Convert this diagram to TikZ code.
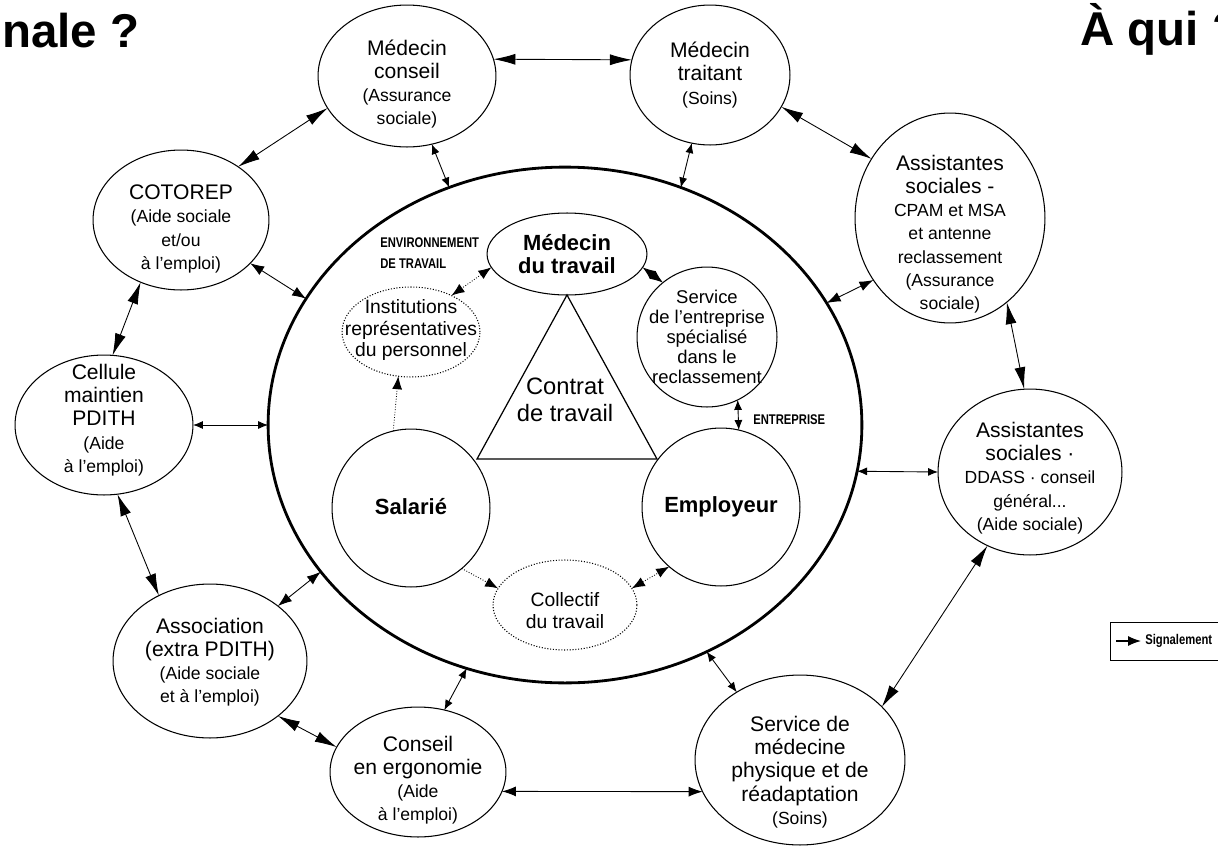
\documentclass[tikz,border=0pt]{standalone}
\usepackage{fontspec}
\setmainfont{Liberation Sans}
\newfontfamily\condfont{Liberation Sans}[FakeStretch=0.8]
\usetikzlibrary{shapes.geometric,arrows.meta}
\newcommand\bigf{\fontsize{12}{13.2}\selectfont}
\newcommand\smf{\fontsize{10}{11.3}\selectfont}
\newcommand\smt{\fontsize{10}{10.6}\selectfont}
\tikzset{
  ell/.style 2 args={ellipse, minimum width=#1*0.04cm, minimum height=#2*0.04cm, inner sep=0pt, outer sep=0pt},
  onode/.style={draw, line width=0.6pt},
  dnode/.style={draw, line width=0.6pt, densely dotted},
  txt/.style={align=center, inner sep=0pt, font=\bigf},
  itxt/.style={align=center, inner sep=0pt},
  bigarr/.style={line width=0.5pt, {Latex[length=4.4mm,width=2.2mm]}-{Latex[length=4.4mm,width=2.2mm]}},
  medarr/.style={line width=0.5pt, {Latex[length=2.8mm,width=2mm]}-{Latex[length=2.8mm,width=2mm]}},
  smarr/.style={line width=0.5pt, {Latex[length=2mm,width=1.6mm]}-{Latex[length=2mm,width=1.6mm]}},
  dotarr/.style={line width=0.5pt, densely dotted, {Latex[length=2.6mm,width=2mm]}-{Latex[length=2.6mm,width=2mm]}},
  dotone/.style={line width=0.5pt, densely dotted, -{Latex[length=2.6mm,width=2mm]}},
  capsf/.style={inner sep=0pt, anchor=west, font=\condfont\bfseries\fontsize{8}{9}\selectfont}
}
\begin{document}
\begin{tikzpicture}[x=0.02cm, y=-0.02cm]
\useasboundingbox (0,0) rectangle (1218,849);
\fill[white] (0,0) rectangle (1218,849);

% titles
\node[anchor=base west, inner sep=0pt, font=\fontsize{27}{30}\selectfont\bfseries] (t1) at (2,47) {nale ?};
\begin{scope}
\clip (0,0) rectangle (1218,849);
\node[anchor=base west, inner sep=0pt, font=\fontsize{27}{30}\selectfont\bfseries] (t2) at (1080,45) {À qui ?};
\end{scope}

% big ellipse
\node[ell={297}{258}, draw, line width=1.6pt] (big) at (565,425) {};

% outer nodes
\node[ell={89}{71}, onode] (mc) at (407,76) {};
\node[txt] (mct) at (407,84) {Médecin\\conseil\\\smf(Assurance\\\smf sociale)};
\node[ell={80}{70}, onode] (mt) at (710,75) {};
\node[txt] (mtt) at (710,75) {Médecin\\traitant\\\smf(Soins)};
\node[ell={95}{105}, onode] (as1) at (950,218) {};
\node[txt] (as1t) at (950,234) {Assistantes\\sociales -\\\smt CPAM et MSA\\\smt et antenne\\\smt reclassement\\\smt (Assurance\\\smt sociale)};
\node[ell={92}{83}, onode] (as2) at (1030,472) {};
\node[txt] (as2t) at (1030,478) {Assistantes\\sociales ·\\\smf DDASS · conseil\\\smf général...\\\smf (Aide sociale)};
\node[ell={105}{85}, onode] (smp) at (800,760) {};
\node[txt] (smpt) at (800,772) {Service de\\médecine\\physique et de\\réadaptation\\\smf(Soins)};
\node[ell={88}{65}, onode] (cons) at (418,772) {};
\node[txt] (const) at (418,780) {Conseil\\en ergonomie\\\smf(Aide\\\smf à l’emploi)};
\node[ell={97}{77}, onode] (assoc) at (210,661) {};
\node[txt] (assoct) at (210,662) {Association\\(extra PDITH)\\\smf(Aide sociale\\\smf et à l’emploi)};
\node[ell={89}{70}, onode] (cell) at (104,425) {};
\node[txt] (cellt) at (104,420) {Cellule\\maintien\\PDITH\\\smf(Aide\\\smf à l’emploi)};
\node[ell={88}{70}, onode] (cot) at (181,220) {};
\node[txt] (cott) at (181,229) {COTOREP\\\smf(Aide sociale\\\smf et/ou\\\smf à l’emploi)};

% inner nodes
\node[ell={80}{41}, onode] (mdt) at (567,254) {};
\node[itxt, font=\fontsize{12.5}{13}\selectfont\bfseries] (mdtt) at (567,254) {Médecin\\du travail};
\node[ell={69}{45}, dnode] (inst) at (411,332) {};
\node[itxt, font=\fontsize{11}{12.5}\selectfont] (instt) at (411,330) {Institutions\\représentatives\\du personnel};
\node[ell={70}{70}, onode] (serv) at (707,337) {};
\node[itxt, font=\fontsize{10.5}{11.4}\selectfont] (servt) at (707,337) {Service\\de l’entreprise\\spécialisé\\dans le\\reclassement};
\node[ell={79}{79}, onode] (sal) at (411,508) {};
\node[itxt, font=\fontsize{12.5}{14}\selectfont\bfseries] (salt) at (411,507) {Salarié};
\node[ell={79}{79}, onode] (emp) at (721,507) {};
\node[itxt, font=\fontsize{12.5}{14}\selectfont\bfseries] (empt) at (721,507) {Employeur};
\node[ell={72}{45}, dnode] (coll) at (565,605) {};
\node[itxt, font=\fontsize{11}{12.5}\selectfont] (collt) at (565,611) {Collectif\\du travail};

% triangle
\coordinate (tl) at (477,459);
\coordinate (tr) at (657,459);
\draw[line width=0.7pt] (mdt.south) -- (tl) -- (tr) -- cycle;
\node[itxt, font=\fontsize{13.5}{15}\selectfont] (ctr) at (565,400) {Contrat\\de travail};

% small caps labels
\node[capsf] (env1) at (380,243) {ENVIRONNEMENT};
\node[capsf] (env2) at (380,264) {DE TRAVAIL};
\node[capsf] (entr) at (753,420) {ENTREPRISE};

% outer connectors
\draw[bigarr] (mc.11) -- (mt.169);
\draw[smarr] (mc.-70) -- (big.116);
\draw[smarr] (mt.-105) -- (big.64);
\draw[bigarr] (cot.43) -- (mc.-158);
\draw[medarr] (cot.-32) -- (big.154);
\draw[bigarr] (cot.-123) -- (cell.83);
\draw[smarr] (cell.0) -- (big.180);
\draw[bigarr] (cell.-79) -- (assoc.128);
\draw[medarr] (assoc.39) -- (big.-149);
\draw[bigarr] (assoc.-39) -- (cons.163);
\draw[smarr] (cons.67) -- (big.-112);
\draw[medarr] (cons.-13) -- (smp.-162);
\draw[bigarr] (mt.-24) -- (as1.143);
\draw[medarr] (as1.-141) -- (big.25);
\draw[bigarr] (as1.-56) -- (as2.94);
\draw[smarr] (as2.180) -- (big.-9);
\draw[bigarr] (as2.-120) -- (smp.33);
\draw[smarr] (smp.133) -- (big.-58);

% inner connectors
\draw[dotarr] (mdt.190) -- (inst.42);
\draw[dotarr] (mdt.-10) -- (serv.129);
\draw[dotone] (sal.103) -- (inst.-106);
\draw[smarr] (serv.-64) -- (emp.77);
\draw[dotone] (sal.-50) -- (coll.166);
\draw[dotarr] (coll.14) -- (emp.-131);

% legend
\node[draw, line width=0.6pt, minimum width=120*0.02cm, minimum height=38*0.02cm, inner sep=0pt, anchor=north west] (leg) at (1110,622) {};
\coordinate (la) at (1116,641);
\coordinate (lb) at (1141,641);
\draw[line width=0.7pt, -{Latex[length=2.6mm,width=2mm]}] (la) -- (lb);
\node[inner sep=0pt, anchor=west, font=\condfont\bfseries\fontsize{8}{10}\selectfont] (legt) at (1145,641) {Signalement};
\end{tikzpicture}
\end{document}
